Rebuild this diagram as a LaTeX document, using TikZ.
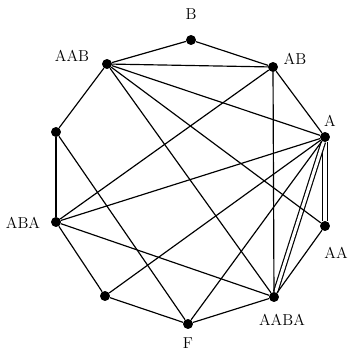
\documentclass[tikz,border=0pt]{standalone}
\usepackage{tikz}
\usetikzlibrary{positioning}
\tikzset{
  vertex/.style={
    circle, fill=black, inner sep=0pt, minimum size=8.5pt,
  },
  vlabel/.style={
    font=\fontsize{13.5}{15}\selectfont, text=black, inner sep=0pt,
  },
  edge/.style={
    line width=1pt, draw=black,
  },
  dedge/.style={
    edge, double=white, double distance=2.6pt,
  },
}
\begin{document}
\begin{tikzpicture}

  \useasboundingbox (0,0) rectangle (10.44,10.5);

  % ─── Vertices (decagon) ───────────────────────────────────────────────
  \node[vertex] (vB)    at (5.73,9.30) {};
  \node[vertex] (vAB)   at (8.19,8.49) {};
  \node[vertex] (vA)    at (9.75,6.39) {};
  \node[vertex] (vAA)   at (9.75,3.72) {};
  \node[vertex] (vAABA) at (8.22,1.59) {};
  \node[vertex] (vF)    at (5.64,0.78) {};
  \node[vertex] (vBL)   at (3.15,1.62) {};
  \node[vertex] (vABA)  at (1.68,3.84) {};
  \node[vertex] (vUL)   at (1.68,6.54) {};
  \node[vertex] (vAAB)  at (3.21,8.58) {};

  % ─── Labels ───────────────────────────────────────────────────────────
  \node[vlabel] (lB)    at (5.73,10.08) {B};
  \node[vlabel] (lAB)   at (8.85,8.72)  {AB};
  \node[vlabel] (lA)    at (9.90,6.87)  {A};
  \node[vlabel] (lAA)   at (10.08,2.91) {AA};
  \node[vlabel] (lAABA) at (8.46,0.90)  {AABA};
  \node[vlabel] (lF)    at (5.64,0.21)  {F};
  \node[vlabel] (lABA)  at (0.69,3.81)  {ABA};
  \node[vlabel] (lAAB)  at (2.16,8.81)  {AAB};

  % ─── Double edges (drawn first) ───────────────────────────────────────
  \draw[dedge] (vA) -- (vAA);
  \draw[dedge] (vA) -- (vAABA);

  % ─── Outer ring ───────────────────────────────────────────────────────
  \foreach \u/\v in {vB/vAB, vAB/vA, vAA/vAABA, vAABA/vF,
                     vF/vBL, vBL/vABA, vABA/vUL, vUL/vAAB, vAAB/vB}
    \draw[edge] (\u) -- (\v);

  % ─── Chords ───────────────────────────────────────────────────────────
  \draw[edge] (vAAB) -- (vAB);
  \draw[edge] (vAAB) -- (vA);
  \draw[edge] (vAAB) -- (vAA);
  \draw[edge] (vAAB) -- (vAABA);
  \draw[edge] (vAB) -- (vAABA);
  \draw[edge] (vAB) -- (vABA);
  \draw[edge] (vA) -- (vABA);
  \draw[edge] (vA) -- (vBL);
  \draw[edge] (vA) -- (vF);
  \draw[edge] (vABA) -- (vAABA);
  \draw[edge] (vUL) -- (vF);

\end{tikzpicture}
\end{document}
